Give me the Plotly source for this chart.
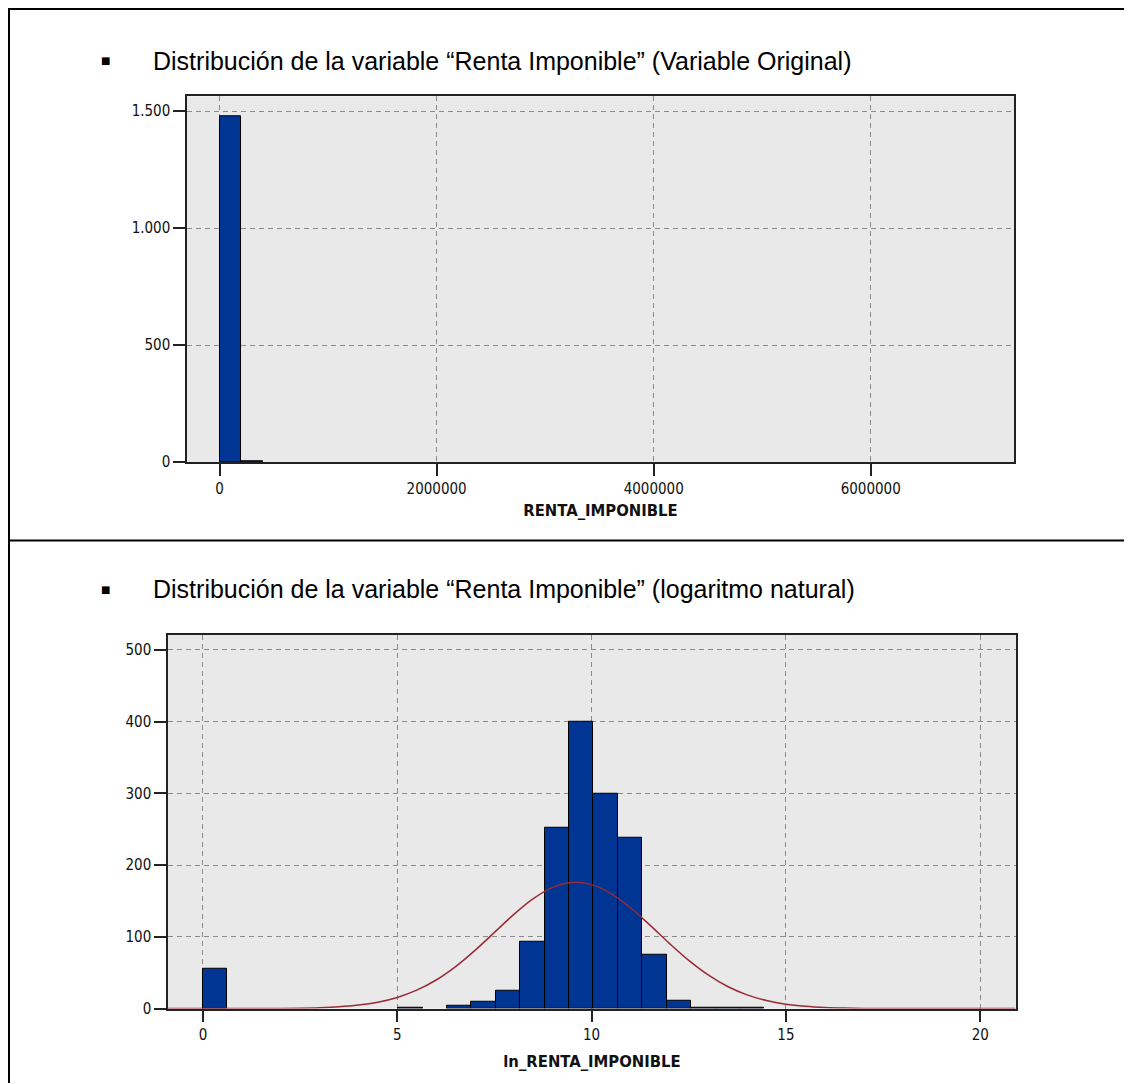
import plotly.graph_objects as go

W, H = 1132, 1084

# ---------------- data ----------------
# Top histogram: RENTA_IMPONIBLE (original variable)
top_bin_start = 0
top_bin_width = 200000
top_counts = [1477, 5]
top_xticks = [0, 2000000, 4000000, 6000000]
top_xticklabels = ["0", "2000000", "4000000", "6000000"]
top_yticks = [0, 500, 1000, 1500]
top_yticklabels = ["0", "500", "1.000", "1.500"]

# Bottom histogram: ln_RENTA_IMPONIBLE
bot_bin_start = 0.0
bot_bin_width = 0.628
bot_counts = [56, 0, 0, 0, 0, 0, 0, 0, 1, 0, 4, 10, 25, 93, 252, 400,
              299, 238, 75, 11, 1, 1, 1]
bot_xticks = [0, 5, 10, 15, 20]
bot_xticklabels = ["0", "5", "10", "15", "20"]
bot_yticks = [0, 100, 200, 300, 400, 500]
bot_yticklabels = ["0", "100", "200", "300", "400", "500"]

# Normal curve overlay
curve_x = [-0.9, 0, 0.5, 1, 1.5, 2, 2.5, 3, 3.5, 4, 4.5, 5, 5.5, 6, 6.5, 7,
           7.5, 8, 8.5, 9, 9.5, 10, 10.5, 11, 11.5, 12, 12.5, 13, 13.5, 14,
           14.5, 15, 15.5, 16, 16.5, 17, 17.5, 18, 18.5, 19, 19.5, 20, 20.9]
curve_y = [0, 0, 0.01, 0.04, 0.1, 0.24, 0.55, 1.2, 2.5, 4.9, 9.0, 15.6, 25.7,
           39.9, 58.6, 81.2, 106.2, 131.3, 153.2, 168.9, 175.8, 172.8, 160.4,
           140.6, 116.4, 91.0, 67.2, 46.9, 30.8, 19.2, 11.3, 6.2, 3.3, 1.6,
           0.75, 0.33, 0.14, 0.05, 0.02, 0.01, 0, 0, 0]

title_top = "Distribución de la variable “Renta Imponible” (Variable Original)"
title_bot = "Distribución de la variable “Renta Imponible” (logaritmo natural)"
xtitle_top = "RENTA_IMPONIBLE"
xtitle_bot = "ln_RENTA_IMPONIBLE"

# ---------------- styles ----------------
BAR_COLOR = "#003594"
CURVE_COLOR = "#9a2a36"
PLOT_BG = "#e9e9e9"
GRID = "#8a8a8a"
AXIS = "#222222"
NARROW = "Liberation Sans Narrow, DejaVu Sans Condensed, Arial Narrow, sans-serif"
TICK_FONT = dict(family=NARROW, size=15, color="#111111")
AXTITLE_FONT = dict(family=NARROW, size=16.5, color="#111111", weight="bold")
TEXT_FONT = dict(family="Liberation Sans, Arial, sans-serif", size=25, color="#000000")


def px_x(p):
    return p / W


def px_y(p):
    return 1 - p / H


def centers(start, width, n):
    return [start + width * (i + 0.5) for i in range(n)]


def nz(vals):
    return [v if v else None for v in vals]


fig = go.Figure()

fig.add_trace(go.Bar(
    x=centers(top_bin_start, top_bin_width, len(top_counts)),
    y=nz(top_counts), width=top_bin_width,
    marker=dict(color=BAR_COLOR, line=dict(color="#000000", width=1)),
    xaxis="x", yaxis="y", hoverinfo="x+y"))

fig.add_trace(go.Bar(
    x=centers(bot_bin_start, bot_bin_width, len(bot_counts)),
    y=nz(bot_counts), width=bot_bin_width,
    marker=dict(color=BAR_COLOR, line=dict(color="#000000", width=1)),
    xaxis="x2", yaxis="y2", hoverinfo="x+y"))

fig.add_trace(go.Scatter(
    x=curve_x, y=curve_y, mode="lines",
    line=dict(color=CURVE_COLOR, width=1.5, shape="spline"),
    xaxis="x2", yaxis="y2", hoverinfo="skip"))


def axis_common():
    return dict(
        showline=True, linecolor=AXIS, linewidth=1.5, mirror=True,
        ticks="outside", ticklen=12, tickwidth=1.5, tickcolor=AXIS,
        showgrid=True, gridcolor=GRID, gridwidth=1, griddash="5px,4px",
        zeroline=False, tickfont=TICK_FONT, fixedrange=True,
    )


fig.update_layout(
    width=W, height=H,
    margin=dict(l=0, r=0, t=0, b=0),
    paper_bgcolor="white", plot_bgcolor=PLOT_BG,
    showlegend=False, bargap=0,
    xaxis=dict(axis_common(),
               domain=[px_x(179), px_x(1006)], anchor="y",
               range=[-300000, 7320000],
               tickmode="array", tickvals=top_xticks, ticktext=top_xticklabels,
               title=dict(text=xtitle_top, font=AXTITLE_FONT, standoff=8)),
    yaxis=dict(axis_common(),
               domain=[px_y(458), px_y(89)], anchor="x",
               range=[0, 1564],
               tickmode="array", tickvals=top_yticks, ticktext=top_yticklabels),
    xaxis2=dict(axis_common(),
                domain=[px_x(160), px_x(1008)], anchor="y2",
                range=[-0.9, 20.92],
                tickmode="array", tickvals=bot_xticks, ticktext=bot_xticklabels,
                title=dict(text=xtitle_bot, font=AXTITLE_FONT, standoff=12)),
    yaxis2=dict(axis_common(),
                domain=[px_y(1009), px_y(632)], anchor="x2",
                range=[0, 521],
                tickmode="array", tickvals=bot_yticks, ticktext=bot_yticklabels),
)

annotations = []
for ytext, txt in [(53, title_top), (586, title_bot)]:
    annotations.append(dict(xref="paper", yref="paper", x=px_x(97), y=px_y(ytext),
                            text="■", showarrow=False, xanchor="center", yanchor="middle",
                            font=dict(family="DejaVu Sans, sans-serif", size=10, color="#000000")))
    annotations.append(dict(xref="paper", yref="paper", x=px_x(143), y=px_y(ytext),
                            text=txt, showarrow=False, xanchor="left", yanchor="middle",
                            font=TEXT_FONT))
fig.update_layout(annotations=annotations)

frame = dict(color="#000000", width=2)
fig.update_layout(shapes=[
    dict(type="line", xref="paper", yref="paper", x0=0, x1=1, y0=px_y(1), y1=px_y(1), line=frame),
    dict(type="line", xref="paper", yref="paper", x0=px_x(1), x1=px_x(1), y0=0, y1=1, line=frame),
    dict(type="line", xref="paper", yref="paper", x0=px_x(1131), x1=px_x(1131), y0=0, y1=1, line=frame),
    dict(type="line", xref="paper", yref="paper", x0=0, x1=1, y0=px_y(537), y1=px_y(537), line=frame),
])

fig.write_html("out.html")
